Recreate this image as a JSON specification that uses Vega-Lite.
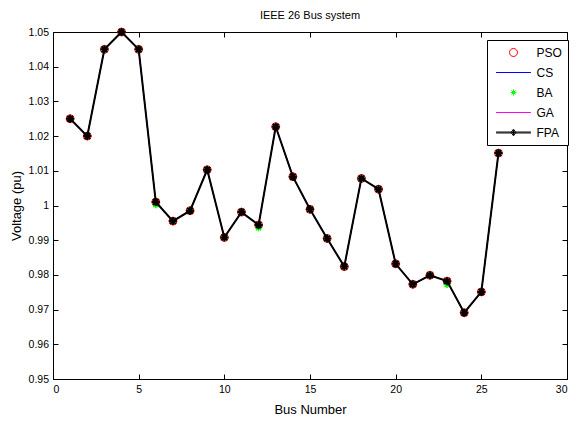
{
  "$schema": "https://vega.github.io/schema/vega-lite/v6.json",
  "width": 514,
  "height": 347,
  "autosize": {"type": "none"},
  "padding": {"left": 53, "top": 32, "right": 9, "bottom": 44},
  "background": "white",
  "title": {"text": "IEEE 26 Bus system", "fontSize": 11, "fontWeight": "normal", "font": "Liberation Sans", "offset": 3, "anchor": "middle", "color": "black"},
  "data": {"values": [
    {"bus": 1, "PSO": 1.025, "CS": 1.025, "BA": 1.025, "GA": 1.025, "FPA": 1.025},
    {"bus": 2, "PSO": 1.02, "CS": 1.02, "BA": 1.02, "GA": 1.02, "FPA": 1.02},
    {"bus": 3, "PSO": 1.045, "CS": 1.045, "BA": 1.045, "GA": 1.045, "FPA": 1.045},
    {"bus": 4, "PSO": 1.05, "CS": 1.05, "BA": 1.05, "GA": 1.05, "FPA": 1.05},
    {"bus": 5, "PSO": 1.045, "CS": 1.045, "BA": 1.045, "GA": 1.045, "FPA": 1.045},
    {"bus": 6, "PSO": 1.001, "CS": 1.001, "BA": 1.0002, "GA": 1.001, "FPA": 1.001},
    {"bus": 7, "PSO": 0.9955, "CS": 0.9955, "BA": 0.9955, "GA": 0.9955, "FPA": 0.9955},
    {"bus": 8, "PSO": 0.9985, "CS": 0.9985, "BA": 0.9985, "GA": 0.9985, "FPA": 0.9985},
    {"bus": 9, "PSO": 1.0103, "CS": 1.0103, "BA": 1.0103, "GA": 1.0103, "FPA": 1.0103},
    {"bus": 10, "PSO": 0.9908, "CS": 0.9908, "BA": 0.9908, "GA": 0.9908, "FPA": 0.9908},
    {"bus": 11, "PSO": 0.9981, "CS": 0.9981, "BA": 0.9981, "GA": 0.9981, "FPA": 0.9981},
    {"bus": 12, "PSO": 0.9944, "CS": 0.9944, "BA": 0.9936, "GA": 0.9944, "FPA": 0.9944},
    {"bus": 13, "PSO": 1.0227, "CS": 1.0227, "BA": 1.0227, "GA": 1.0227, "FPA": 1.0227},
    {"bus": 14, "PSO": 1.0083, "CS": 1.0083, "BA": 1.0083, "GA": 1.0083, "FPA": 1.0083},
    {"bus": 15, "PSO": 0.9989, "CS": 0.9989, "BA": 0.9989, "GA": 0.9989, "FPA": 0.9989},
    {"bus": 16, "PSO": 0.9905, "CS": 0.9905, "BA": 0.9905, "GA": 0.9905, "FPA": 0.9905},
    {"bus": 17, "PSO": 0.9824, "CS": 0.9824, "BA": 0.9824, "GA": 0.9824, "FPA": 0.9824},
    {"bus": 18, "PSO": 1.0078, "CS": 1.0078, "BA": 1.0078, "GA": 1.0078, "FPA": 1.0078},
    {"bus": 19, "PSO": 1.0047, "CS": 1.0047, "BA": 1.0047, "GA": 1.0047, "FPA": 1.0047},
    {"bus": 20, "PSO": 0.9832, "CS": 0.9832, "BA": 0.9832, "GA": 0.9832, "FPA": 0.9832},
    {"bus": 21, "PSO": 0.9773, "CS": 0.9773, "BA": 0.9773, "GA": 0.9773, "FPA": 0.9773},
    {"bus": 22, "PSO": 0.9799, "CS": 0.9799, "BA": 0.9799, "GA": 0.9799, "FPA": 0.9799},
    {"bus": 23, "PSO": 0.9782, "CS": 0.9782, "BA": 0.9772, "GA": 0.9782, "FPA": 0.9782},
    {"bus": 24, "PSO": 0.9691, "CS": 0.9691, "BA": 0.9691, "GA": 0.9691, "FPA": 0.9691},
    {"bus": 25, "PSO": 0.9751, "CS": 0.9751, "BA": 0.9751, "GA": 0.9751, "FPA": 0.9751},
    {"bus": 26, "PSO": 1.0151, "CS": 1.0151, "BA": 1.0151, "GA": 1.0151, "FPA": 1.0151}
  ]},
  "layer": [
    {
      "transform": [{"fold": ["PSO", "CS", "BA", "GA", "FPA"], "as": ["series", "v"]}],
      "mark": {"type": "point", "filled": false, "opacity": 0},
      "encoding": {
        "x": {"field": "bus", "type": "quantitative", "scale": {"domain": [0, 30], "nice": false},
              "axis": {"orient": "top", "values": [0, 5, 10, 15, 20, 25, 30], "labels": false, "title": null, "domain": false, "tickSize": -5}},
        "y": {"field": "v", "type": "quantitative", "scale": {"domain": [0.95, 1.05], "nice": false, "zero": false},
              "axis": {"orient": "right", "values": [0.95, 0.96, 0.97, 0.98, 0.99, 1, 1.01, 1.02, 1.03, 1.04, 1.05], "labels": false, "title": null, "domain": false, "tickSize": -5}},
        "color": {"field": "series", "type": "nominal",
                  "scale": {"domain": ["PSO", "CS", "BA", "GA", "FPA"], "range": ["#ff0000", "#0000ff", "#00ff00", "#ff00ff", "#000000"]},
                  "legend": {"orient": "none", "legendX": 434, "legendY": 8, "title": null, "strokeColor": "black", "fillColor": "white",
                             "padding": 6, "rowPadding": 7, "labelFont": "Liberation Sans", "labelFontSize": 12, "labelColor": "black",
                             "symbolSize": 144, "symbolStrokeWidth": 1, "symbolOpacity": 1, "symbolOffset": 14, "labelOffset": 16.5}},
        "shape": {"field": "series", "type": "nominal",
                  "scale": {"domain": ["PSO", "CS", "BA", "GA", "FPA"], "range": [
                    "M0.667,0A0.667,0.667,0,1,1,-0.667,0A0.667,0.667,0,1,1,0.667,0Z",
                    "M-2.9,0L2.9,0",
                    "M-0.5,0L0.5,0M0,-0.5L0,0.5M-0.35,-0.35L0.35,0.35M-0.35,0.35L0.35,-0.35",
                    "M-2.9,0L2.9,0",
                    "M-2.9,-0.08L2.9,-0.08M-2.9,0.08L2.9,0.08M0,-0.55L0.4,0L0,0.55L-0.4,0ZM0,-0.4L0,0.4M-0.25,0L0.25,0"
                  ]},
                  "legend": {"orient": "none", "legendX": 434, "legendY": 8, "title": null}}
      }
    },
    {
      "mark": {"type": "point", "shape": "circle", "filled": false, "color": "#ff0000", "strokeWidth": 1, "size": 64, "opacity": 1},
      "encoding": {
        "x": {"field": "bus", "type": "quantitative", "scale": {"domain": [0, 30], "nice": false},
              "axis": {"orient": "bottom", "values": [0, 5, 10, 15, 20, 25, 30], "title": "Bus Number", "tickSize": -5, "labelPadding": 10, "titlePadding": 9}},
        "y": {"field": "PSO", "type": "quantitative", "scale": {"domain": [0.95, 1.05], "nice": false, "zero": false},
              "axis": {"orient": "left", "values": [0.95, 0.96, 0.97, 0.98, 0.99, 1, 1.01, 1.02, 1.03, 1.04, 1.05], "format": "~g", "title": "Voltage (pu)", "tickSize": -5, "labelPadding": 9.5, "titlePadding": 5}}
      }
    },
    {
      "mark": {"type": "line", "color": "#0000ff", "strokeWidth": 1},
      "encoding": {
        "x": {"field": "bus", "type": "quantitative", "axis": null},
        "y": {"field": "CS", "type": "quantitative", "axis": null}
      }
    },
    {
      "mark": {"type": "point", "shape": "M-1,0L1,0M0,-1L0,1M-0.7,-0.7L0.7,0.7M-0.7,0.7L0.7,-0.7", "filled": false, "color": "#00ff00", "strokeWidth": 1.5, "size": 49, "opacity": 1},
      "encoding": {
        "x": {"field": "bus", "type": "quantitative", "axis": null},
        "y": {"field": "BA", "type": "quantitative", "axis": null}
      }
    },
    {
      "mark": {"type": "line", "color": "#ff00ff", "strokeWidth": 1},
      "encoding": {
        "x": {"field": "bus", "type": "quantitative", "axis": null},
        "y": {"field": "GA", "type": "quantitative", "axis": null}
      }
    },
    {
      "mark": {"type": "line", "color": "#000000", "strokeWidth": 2},
      "encoding": {
        "x": {"field": "bus", "type": "quantitative", "axis": null},
        "y": {"field": "FPA", "type": "quantitative", "axis": null}
      }
    },
    {
      "mark": {"type": "point", "shape": "M-1,0L1,0M0,-1L0,1M-0.7,-0.7L0.7,0.7M-0.7,0.7L0.7,-0.7", "filled": false, "color": "#000000", "strokeWidth": 2, "size": 64, "opacity": 1},
      "encoding": {
        "x": {"field": "bus", "type": "quantitative", "axis": null},
        "y": {"field": "FPA", "type": "quantitative", "axis": null}
      }
    }
  ],
  "resolve": {"axis": {"x": "independent", "y": "independent"}},
  "config": {
    "view": {"stroke": "black", "strokeWidth": 1},
    "axis": {"grid": false, "labelFont": "Liberation Sans", "labelFontSize": 10.5, "labelColor": "black",
             "titleFont": "Liberation Sans", "titleFontSize": 13, "titleFontWeight": "normal", "titleColor": "black",
             "tickColor": "black", "domainColor": "black", "tickWidth": 1}
  }
}
